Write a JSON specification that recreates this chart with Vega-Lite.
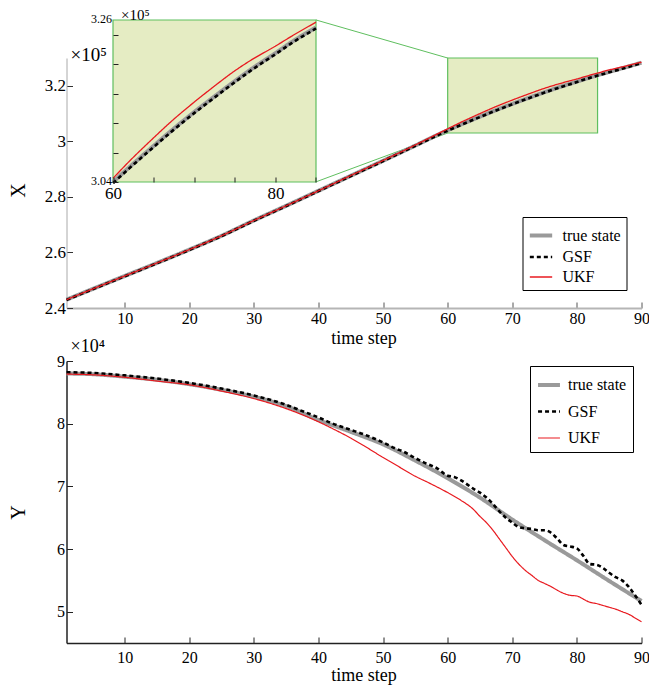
{
"$schema": "https://vega.github.io/schema/vega-lite/v6.json",
"padding": {"left": 8.5, "top": 8, "right": 0, "bottom": 2},
"background": "white",
"config": {"view": {"stroke": null}, "font": "Liberation Serif", "axis": {"grid": false, "labelFont": "Liberation Serif", "titleFont": "Liberation Serif", "titleFontWeight": "normal", "labelColor": "#000", "titleColor": "#000", "labelFlush": false, "labelOverlap": false}, "legend": {"labelFont": "Liberation Serif"}, "text": {"font": "Liberation Serif"}},
"bounds": "flush",
"spacing": 53,
"datasets": {
"xdata": [
{"t":1,"v":243000,"s":"true state"},{"t":5,"v":246800,"s":"true state"},{"t":10,"v":251500,"s":"true state"},{"t":15,"v":256200,"s":"true state"},{"t":20,"v":261000,"s":"true state"},{"t":25,"v":266000,"s":"true state"},{"t":30,"v":271500,"s":"true state"},{"t":35,"v":276800,"s":"true state"},{"t":40,"v":282200,"s":"true state"},{"t":45,"v":287600,"s":"true state"},{"t":50,"v":293000,"s":"true state"},{"t":55,"v":298500,"s":"true state"},{"t":60,"v":304000,"s":"true state"},{"t":62,"v":306000,"s":"true state"},{"t":65,"v":308900,"s":"true state"},{"t":67,"v":310800,"s":"true state"},{"t":70,"v":313500,"s":"true state"},{"t":72,"v":315200,"s":"true state"},{"t":75,"v":317700,"s":"true state"},{"t":77,"v":319300,"s":"true state"},{"t":80,"v":321500,"s":"true state"},{"t":82,"v":323000,"s":"true state"},{"t":85,"v":325000,"s":"true state"},{"t":87,"v":326300,"s":"true state"},{"t":90,"v":328300,"s":"true state"},
{"t":1,"v":242900,"s":"GSF"},{"t":5,"v":246700,"s":"GSF"},{"t":10,"v":251400,"s":"GSF"},{"t":15,"v":256100,"s":"GSF"},{"t":20,"v":260900,"s":"GSF"},{"t":25,"v":265900,"s":"GSF"},{"t":30,"v":271400,"s":"GSF"},{"t":35,"v":276700,"s":"GSF"},{"t":40,"v":282100,"s":"GSF"},{"t":45,"v":287500,"s":"GSF"},{"t":50,"v":292900,"s":"GSF"},{"t":55,"v":298400,"s":"GSF"},{"t":60,"v":303850,"s":"GSF"},{"t":62,"v":305850,"s":"GSF"},{"t":65,"v":308750,"s":"GSF"},{"t":67,"v":310650,"s":"GSF"},{"t":70,"v":313350,"s":"GSF"},{"t":72,"v":315050,"s":"GSF"},{"t":75,"v":317550,"s":"GSF"},{"t":77,"v":319150,"s":"GSF"},{"t":80,"v":321350,"s":"GSF"},{"t":82,"v":322850,"s":"GSF"},{"t":85,"v":324850,"s":"GSF"},{"t":87,"v":326150,"s":"GSF"},{"t":90,"v":328200,"s":"GSF"},
{"t":1,"v":243000,"s":"UKF"},{"t":5,"v":246800,"s":"UKF"},{"t":10,"v":251500,"s":"UKF"},{"t":15,"v":256200,"s":"UKF"},{"t":20,"v":261000,"s":"UKF"},{"t":25,"v":266000,"s":"UKF"},{"t":30,"v":271500,"s":"UKF"},{"t":35,"v":276800,"s":"UKF"},{"t":40,"v":282200,"s":"UKF"},{"t":45,"v":287700,"s":"UKF"},{"t":50,"v":293100,"s":"UKF"},{"t":55,"v":298700,"s":"UKF"},{"t":60,"v":304500,"s":"UKF"},{"t":62,"v":306800,"s":"UKF"},{"t":65,"v":310000,"s":"UKF"},{"t":67,"v":312050,"s":"UKF"},{"t":70,"v":314850,"s":"UKF"},{"t":72,"v":316600,"s":"UKF"},{"t":75,"v":319100,"s":"UKF"},{"t":77,"v":320550,"s":"UKF"},{"t":80,"v":322450,"s":"UKF"},{"t":82,"v":323800,"s":"UKF"},{"t":85,"v":325700,"s":"UKF"},{"t":87,"v":326800,"s":"UKF"},{"t":90,"v":328500,"s":"UKF"}
],
"ydata": [
{"t":1,"v":88000,"s":"true state"},{"t":5,"v":87900,"s":"true state"},{"t":10,"v":87500,"s":"true state"},{"t":15,"v":87000,"s":"true state"},{"t":20,"v":86300,"s":"true state"},{"t":25,"v":85400,"s":"true state"},{"t":30,"v":84300,"s":"true state"},{"t":35,"v":82800,"s":"true state"},{"t":40,"v":80600,"s":"true state"},{"t":45,"v":78700,"s":"true state"},{"t":50,"v":76700,"s":"true state"},{"t":55,"v":74100,"s":"true state"},{"t":60,"v":71300,"s":"true state"},{"t":65,"v":68200,"s":"true state"},{"t":70,"v":64700,"s":"true state"},{"t":75,"v":61400,"s":"true state"},{"t":80,"v":58200,"s":"true state"},{"t":85,"v":54900,"s":"true state"},{"t":90,"v":51700,"s":"true state"},
{"t":1,"v":88200,"s":"GSF"},{"t":5,"v":88100,"s":"GSF"},{"t":10,"v":87700,"s":"GSF"},{"t":15,"v":87200,"s":"GSF"},{"t":20,"v":86500,"s":"GSF"},{"t":25,"v":85600,"s":"GSF"},{"t":30,"v":84500,"s":"GSF"},{"t":35,"v":83000,"s":"GSF"},{"t":38,"v":81800,"s":"GSF"},{"t":40,"v":81000,"s":"GSF"},{"t":42,"v":80100,"s":"GSF"},{"t":45,"v":79000,"s":"GSF"},{"t":47,"v":78300,"s":"GSF"},{"t":50,"v":77000,"s":"GSF"},{"t":52,"v":76000,"s":"GSF"},{"t":53,"v":75600,"s":"GSF"},{"t":55,"v":74500,"s":"GSF"},{"t":57,"v":73500,"s":"GSF"},{"t":58,"v":73100,"s":"GSF"},{"t":60,"v":71700,"s":"GSF"},{"t":61,"v":71500,"s":"GSF"},{"t":62,"v":71000,"s":"GSF"},{"t":64,"v":69600,"s":"GSF"},{"t":65,"v":69000,"s":"GSF"},{"t":67,"v":67200,"s":"GSF"},{"t":68,"v":66000,"s":"GSF"},{"t":69,"v":65000,"s":"GSF"},{"t":70,"v":64200,"s":"GSF"},{"t":71,"v":63500,"s":"GSF"},{"t":72,"v":63300,"s":"GSF"},{"t":73,"v":63200,"s":"GSF"},{"t":74,"v":63000,"s":"GSF"},{"t":75,"v":63000,"s":"GSF"},{"t":76,"v":62600,"s":"GSF"},{"t":77,"v":61600,"s":"GSF"},{"t":78,"v":60600,"s":"GSF"},{"t":79,"v":60400,"s":"GSF"},{"t":80,"v":60100,"s":"GSF"},{"t":81,"v":58900,"s":"GSF"},{"t":82,"v":57600,"s":"GSF"},{"t":83,"v":57500,"s":"GSF"},{"t":84,"v":57000,"s":"GSF"},{"t":85,"v":56200,"s":"GSF"},{"t":86,"v":55500,"s":"GSF"},{"t":87,"v":55000,"s":"GSF"},{"t":88,"v":54000,"s":"GSF"},{"t":89,"v":52600,"s":"GSF"},{"t":90,"v":51100,"s":"GSF"},
{"t":1,"v":87900,"s":"UKF"},{"t":5,"v":87800,"s":"UKF"},{"t":10,"v":87400,"s":"UKF"},{"t":15,"v":86800,"s":"UKF"},{"t":20,"v":86200,"s":"UKF"},{"t":25,"v":85200,"s":"UKF"},{"t":30,"v":84000,"s":"UKF"},{"t":35,"v":82400,"s":"UKF"},{"t":38,"v":81200,"s":"UKF"},{"t":40,"v":80300,"s":"UKF"},{"t":42,"v":79300,"s":"UKF"},{"t":45,"v":77700,"s":"UKF"},{"t":47,"v":76500,"s":"UKF"},{"t":50,"v":74600,"s":"UKF"},{"t":52,"v":73400,"s":"UKF"},{"t":55,"v":71600,"s":"UKF"},{"t":57,"v":70600,"s":"UKF"},{"t":60,"v":69000,"s":"UKF"},{"t":62,"v":67800,"s":"UKF"},{"t":64,"v":66300,"s":"UKF"},{"t":65,"v":65200,"s":"UKF"},{"t":66,"v":64200,"s":"UKF"},{"t":67,"v":63000,"s":"UKF"},{"t":68,"v":61600,"s":"UKF"},{"t":69,"v":60200,"s":"UKF"},{"t":70,"v":58800,"s":"UKF"},{"t":71,"v":57600,"s":"UKF"},{"t":72,"v":56600,"s":"UKF"},{"t":73,"v":55800,"s":"UKF"},{"t":74,"v":55000,"s":"UKF"},{"t":75,"v":54500,"s":"UKF"},{"t":76,"v":54000,"s":"UKF"},{"t":77,"v":53400,"s":"UKF"},{"t":78,"v":52900,"s":"UKF"},{"t":79,"v":52600,"s":"UKF"},{"t":80,"v":52500,"s":"UKF"},{"t":81,"v":52000,"s":"UKF"},{"t":82,"v":51500,"s":"UKF"},{"t":83,"v":51300,"s":"UKF"},{"t":84,"v":51000,"s":"UKF"},{"t":85,"v":50700,"s":"UKF"},{"t":86,"v":50400,"s":"UKF"},{"t":87,"v":50000,"s":"UKF"},{"t":88,"v":49600,"s":"UKF"},{"t":89,"v":49000,"s":"UKF"},{"t":90,"v":48400,"s":"UKF"}
]
},
"vconcat": [
{
"width": 575, "height": 250,
"layer": [
{"layer": [
{"data": {"values": [{"x1": 60, "x2": 83.2, "y1": 303000, "y2": 330000}]},
 "mark": {"type": "rect", "fill": "#e5ecc3", "stroke": "#5fbf5f", "strokeWidth": 1.2},
 "encoding": {
  "x": {"field": "x1", "type": "quantitative", "scale": {"domain": [1, 90], "nice": false, "zero": false},
   "axis": {"values": [10,20,30,40,50,60,70,80,90], "labelOverlap": false, "title": "time step", "titleFont": "Liberation Serif", "titleFontSize": 18, "titleX": 297, "titleY": 30, "titleBaseline": "middle", "titleAlign": "center", "domainColor": "#b5b5b5", "domainWidth": 2, "tickColor": "#555", "tickSize": -6, "tickWidth": 1, "labelPadding": 8, "labelFont": "Liberation Serif", "labelFontSize": 16}},
  "x2": {"field": "x2"},
  "y": {"field": "y1", "type": "quantitative", "scale": {"domain": [240000, 330000], "nice": false, "zero": false},
   "axis": {"values": [240000,260000,280000,300000,320000], "labelOverlap": false, "labelExpr": "format(datum.value/100000,'.1~f')", "title": "X", "titleFont": "Liberation Serif", "titleFontSize": 20, "titleX": -48, "titleY": 132, "titleBaseline": "middle", "titleAlign": "center", "domainColor": "#aaaaaa", "domainWidth": 1, "tickColor": "#333", "tickSize": -6, "labelPadding": 7, "labelFont": "Liberation Serif", "labelFontSize": 17}},
  "y2": {"field": "y2"}
 }},
{"data": {"values": [{"x1": 39.6, "y1": 343700, "x2": 60, "y2": 330000}, {"x1": 39.6, "y1": 285400, "x2": 60, "y2": 303000}]},
 "mark": {"type": "rule", "stroke": "#5fbf5f", "strokeWidth": 1},
 "encoding": {
  "x": {"field": "x1", "type": "quantitative", "scale": {"domain": [1, 90], "nice": false, "zero": false}},
  "x2": {"field": "x2"},
  "y": {"field": "y1", "type": "quantitative", "scale": {"domain": [240000, 330000], "nice": false, "zero": false}},
  "y2": {"field": "y2"}
 }},
{"data": {"name": "xdata"},
 "mark": {"type": "line", "interpolate": "monotone"},
 "encoding": {
  "x": {"field": "t", "type": "quantitative", "scale": {"domain": [1, 90], "nice": false, "zero": false}},
  "y": {"field": "v", "type": "quantitative", "scale": {"domain": [240000, 330000], "nice": false, "zero": false}},
  "color": {"field": "s", "type": "nominal", "scale": {"domain": ["true state", "GSF", "UKF"], "range": ["#9a9a9a", "#000000", "#e8191f"]},
   "legend": {"title": null, "orient": "none", "legendX": 456, "legendY": 159, "strokeColor": "#000", "fillColor": "#fff", "padding": 5, "symbolType": "stroke", "symbolSize": 500, "labelFontSize": 16, "labelFont": "Liberation Serif", "labelOffset": 8, "rowPadding": 0}},
  "strokeDash": {"field": "s", "type": "nominal", "scale": {"domain": ["true state", "GSF", "UKF"], "range": [[1,0],[4,3],[1,0]]}},
  "strokeWidth": {"field": "s", "type": "nominal", "scale": {"domain": ["true state", "GSF", "UKF"], "range": [4, 1.3, 1.8]}}
 }},
{"data": {"values": [{"t": 1, "v": 330000, "label": "×10⁵"}]},
 "mark": {"type": "text", "align": "left", "baseline": "alphabetic", "dx": 4, "dy": 3, "fontSize": 19, "font": "Liberation Serif"},
 "encoding": {
  "x": {"field": "t", "type": "quantitative", "scale": {"domain": [1, 90], "nice": false, "zero": false}},
  "y": {"field": "v", "type": "quantitative", "scale": {"domain": [240000, 330000], "nice": false, "zero": false}},
  "text": {"field": "label"}
 }}
]},
{"layer": [
{"data": {"values": [{"x1": 60, "x2": 85, "y1": 304000, "y2": 326000}]},
 "mark": {"type": "rect", "fill": "#e5ecc3", "stroke": "#5fbf5f", "strokeWidth": 1.2},
 "encoding": {
  "x": {"field": "x1", "type": "quantitative", "scale": {"domain": [60, 85], "range": [46.5, 249.5], "nice": false, "zero": false},
   "axis": {"orient": "bottom", "offset": -126, "values": [60,65,70,75,80,84.99], "labelOverlap": false, "labelExpr": "datum.value == 60 || datum.value == 80 ? datum.label : ''", "domain": false, "tickSize": -5, "tickColor": "#222", "labelPadding": 8, "labelFont": "Liberation Serif", "labelFontSize": 17, "title": null, "zindex": 2}},
  "x2": {"field": "x2"},
  "y": {"field": "y1", "type": "quantitative", "scale": {"domain": [304000, 326000], "range": [124, -38], "nice": false, "zero": false},
   "axis": {"orient": "left", "offset": -46.5, "values": [304000,306000,308000,310000,312000,314000,316000,318000,320000,322000,324000,325999], "labels": false, "domain": false, "tickSize": -5, "tickColor": "#222", "title": null, "zindex": 2}},
  "y2": {"field": "y2"}
 }},
{"data": {"name": "xdata"},
 "transform": [{"filter": "datum.t >= 60 && datum.t <= 85"}],
 "mark": {"type": "line", "interpolate": "monotone"},
 "encoding": {
  "x": {"field": "t", "type": "quantitative", "scale": {"domain": [60, 85], "range": [46.5, 249.5], "nice": false, "zero": false}},
  "y": {"field": "v", "type": "quantitative", "scale": {"domain": [304000, 326000], "range": [124, -38], "nice": false, "zero": false}},
  "color": {"field": "s", "type": "nominal", "scale": {"domain": ["true state", "GSF", "UKF"], "range": ["#9a9a9a", "#000000", "#e8191f"]},
   "legend": {"title": null, "orient": "none", "legendX": 456, "legendY": 159, "strokeColor": "#000", "fillColor": "#fff", "padding": 5, "symbolType": "stroke", "symbolSize": 500, "labelFontSize": 16, "labelFont": "Liberation Serif", "labelOffset": 8, "rowPadding": 0}},
  "strokeDash": {"field": "s", "type": "nominal", "scale": {"domain": ["true state", "GSF", "UKF"], "range": [[1,0],[4,3],[1,0]]}},
  "strokeWidth": {"field": "s", "type": "nominal", "scale": {"domain": ["true state", "GSF", "UKF"], "range": [4, 1.3, 1.8]}}
 }},
{"data": {"values": [{"t": 60, "v": 326000, "label": "×10⁵"}]},
 "mark": {"type": "text", "align": "left", "baseline": "alphabetic", "dx": 8, "dy": 0, "fontSize": 15, "font": "Liberation Serif"},
 "encoding": {
  "x": {"field": "t", "type": "quantitative", "scale": {"domain": [60, 85], "range": [46.5, 249.5], "nice": false, "zero": false}},
  "y": {"field": "v", "type": "quantitative", "scale": {"domain": [304000, 326000], "range": [124, -38], "nice": false, "zero": false}},
  "text": {"field": "label"}
 }},
{"data": {"values": [{"t": 60, "v": 326000, "label": "3.26"}, {"t": 60, "v": 304000, "label": "3.04"}]},
 "mark": {"type": "text", "align": "right", "baseline": "middle", "dx": -1, "dy": -1, "fontSize": 12, "font": "Liberation Serif"},
 "encoding": {
  "x": {"field": "t", "type": "quantitative", "scale": {"domain": [60, 85], "range": [46.5, 249.5], "nice": false, "zero": false}},
  "y": {"field": "v", "type": "quantitative", "scale": {"domain": [304000, 326000], "range": [124, -38], "nice": false, "zero": false}},
  "text": {"field": "label"}
 }}
]}
],
"resolve": {"scale": {"x": "independent", "y": "independent"}}
},
{
"width": 575, "height": 282,
"layer": [
{"data": {"name": "ydata"},
 "mark": {"type": "line", "interpolate": "monotone"},
 "encoding": {
  "x": {"field": "t", "type": "quantitative", "scale": {"domain": [1, 90], "nice": false, "zero": false},
   "axis": {"values": [10,20,30,40,50,60,70,80,90], "labelOverlap": false, "title": "time step", "titleFont": "Liberation Serif", "titleFontSize": 18, "titleX": 297, "titleY": 32, "titleBaseline": "middle", "titleAlign": "center", "domainColor": "#222", "domainWidth": 1.5, "tickColor": "#222", "tickSize": -6, "labelPadding": 12, "labelFont": "Liberation Serif", "labelFontSize": 16}},
  "y": {"field": "v", "type": "quantitative", "scale": {"domain": [45000, 90000], "nice": false, "zero": false},
   "axis": {"values": [50000,60000,70000,80000,90000], "labelOverlap": false, "labelExpr": "format(datum.value/10000,'d')", "title": "Y", "titleFont": "Liberation Serif", "titleFontSize": 20, "titleX": -48, "titleY": 151, "titleBaseline": "middle", "titleAlign": "center", "domainColor": "#222", "domainWidth": 1.5, "tickColor": "#222", "tickSize": -6, "labelPadding": 8, "labelFont": "Liberation Serif", "labelFontSize": 16}},
  "color": {"field": "s", "type": "nominal", "scale": {"domain": ["true state", "GSF", "UKF"], "range": ["#9a9a9a", "#000000", "#e8191f"]},
   "legend": {"title": null, "orient": "none", "legendX": 463.5, "legendY": 5, "strokeColor": "#000", "fillColor": "#fff", "padding": 6, "symbolType": "stroke", "symbolSize": 480, "labelFontSize": 16, "labelFont": "Liberation Serif", "labelOffset": 6, "rowPadding": 6}},
  "strokeDash": {"field": "s", "type": "nominal", "scale": {"domain": ["true state", "GSF", "UKF"], "range": [[1,0],[4,3],[1,0]]}},
  "strokeWidth": {"field": "s", "type": "nominal", "scale": {"domain": ["true state", "GSF", "UKF"], "range": [4, 1.2, 1.6]}}
 }},
{"data": {"values": [{"t": 1, "v": 90000, "label": "×10⁴"}]},
 "mark": {"type": "text", "align": "left", "baseline": "alphabetic", "dx": 4, "dy": -9, "fontSize": 18, "font": "Liberation Serif"},
 "encoding": {
  "x": {"field": "t", "type": "quantitative", "scale": {"domain": [1, 90], "nice": false, "zero": false}},
  "y": {"field": "v", "type": "quantitative", "scale": {"domain": [45000, 90000], "nice": false, "zero": false}},
  "text": {"field": "label"}
 }}
]
}
],
"resolve": {"scale": {"color": "independent", "strokeDash": "independent", "strokeWidth": "independent"}, "legend": {"color": "independent", "strokeDash": "independent", "strokeWidth": "independent"}}
}
